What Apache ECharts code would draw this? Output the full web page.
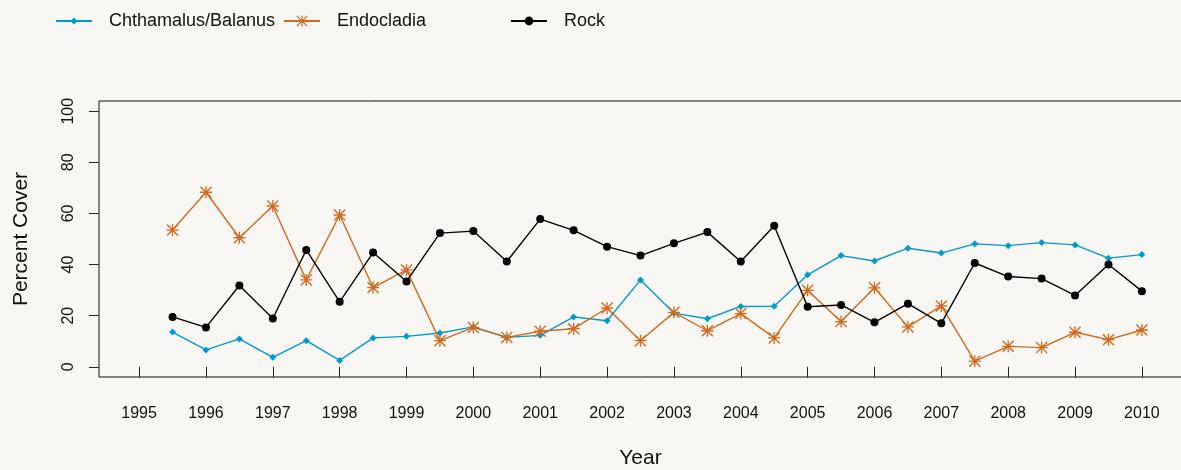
<!DOCTYPE html>
<html>
<head>
<meta charset="utf-8">
<script src="https://cdn.jsdelivr.net/npm/echarts@6/dist/echarts.min.js"></script>
<style>
  html, body { margin: 0; padding: 0; background: #f8f7f3; }
  #chart { width: 1181px; height: 470px; }
</style>
</head>
<body>
<div id="chart"></div>
<script>
var years = [1995.5, 1996, 1996.5, 1997, 1997.5, 1998, 1998.5, 1999, 1999.5, 2000,
  2000.5, 2001, 2001.5, 2002, 2002.5, 2003, 2003.5, 2004, 2004.5, 2005,
  2005.5, 2006, 2006.5, 2007, 2007.5, 2008, 2008.5, 2009, 2009.5, 2010];
var chthamalus = [13.6, 6.6, 10.9, 3.7, 10.2, 2.5, 11.3, 11.9, 13.2, 15.6,
  11.5, 12.3, 19.5, 18.0, 34.0, 21.0, 18.8, 23.6, 23.7, 36.0,
  43.5, 41.4, 46.4, 44.5, 48.1, 47.4, 48.6, 47.7, 42.5, 43.9];
var endocladia = [53.5, 68.3, 50.5, 62.9, 34.0, 59.4, 31.0, 37.9, 10.2, 15.4,
  11.5, 13.9, 14.9, 23.0, 10.2, 21.3, 14.1, 20.8, 11.3, 29.9,
  17.7, 30.9, 15.6, 23.8, 2.2, 8.0, 7.5, 13.5, 10.6, 14.4];
var rock = [19.5, 15.4, 31.8, 18.9, 45.7, 25.4, 44.7, 33.4, 52.3, 53.1,
  41.2, 57.8, 53.4, 47.0, 43.5, 48.3, 52.7, 41.2, 55.2, 23.5,
  24.2, 17.4, 24.7, 17.0, 40.6, 35.3, 34.5, 27.9, 40.0, 29.6];
var xTicks = [1995, 1996, 1997, 1998, 1999, 2000, 2001, 2002, 2003, 2004,
  2005, 2006, 2007, 2008, 2009, 2010];
var yTicks = [0, 20, 40, 60, 80, 100];

var font = "'Liberation Sans', Arial, sans-serif";
// asterisk (R pch 8) made of thin bars
var star = 'path://M0 8.9L20 8.9L20 11.1L0 11.1Z M8.9 0L11.1 0L11.1 20L8.9 20Z ' +
  'M1.6 0L20 18.4L18.4 20L0 1.6Z M18.4 0L20 1.6L1.6 20L0 18.4Z';

function pairs(vals) {
  return years.map(function (y, i) { return [y, vals[i]]; });
}

function legendAt(left, name, h) {
  return {
    left: left, top: 12, padding: 0,
    itemWidth: 36, itemHeight: h,
    data: [name],
    textStyle: { fontFamily: font, fontSize: 18, color: '#111', padding: [0, 0, 0, 12] }
  };
}

var chart = echarts.init(document.getElementById('chart'));
var option = {
  backgroundColor: '#f8f7f3',
  animation: false,
  legend: [
    legendAt(55, 'Chthamalus/Balanus', 9),
    legendAt(283, 'Endocladia', 14),
    legendAt(510, 'Rock', 11)
  ],
  grid: {
    left: 99, top: 101, width: 1083, height: 276,
    outerBoundsMode: 'none', containLabel: false,
    show: true, borderColor: '#111', borderWidth: 1, backgroundColor: 'transparent'
  },
  xAxis: {
    type: 'value', min: 1994.4, max: 2010.6,
    name: 'Year', nameLocation: 'middle', nameGap: 71,
    nameTextStyle: { fontFamily: font, fontSize: 21, color: '#111' },
    axisLine: { show: false },
    splitLine: { show: false },
    axisTick: { show: true, inside: false, length: 11, customValues: xTicks,
      lineStyle: { color: '#222', width: 1 } },
    axisLabel: { customValues: xTicks, margin: 29, fontFamily: font, fontSize: 16, color: '#111',
      formatter: function (v) { return String(v); } }
  },
  yAxis: {
    type: 'value', min: -4, max: 104,
    name: 'Percent Cover', nameLocation: 'middle', nameGap: 67, nameRotate: 90,
    nameTextStyle: { fontFamily: font, fontSize: 21, color: '#111' },
    axisLine: { show: false },
    splitLine: { show: false },
    axisTick: { show: true, inside: false, length: 10, customValues: yTicks,
      lineStyle: { color: '#222', width: 1 } },
    axisLabel: { customValues: yTicks, rotate: 90, margin: 22, fontFamily: font, fontSize: 16, color: '#111' }
  },
  series: [
    {
      name: 'Chthamalus/Balanus', type: 'line', data: pairs(chthamalus),
      symbol: 'diamond', symbolSize: 7, showAllSymbol: true, z: 2,
      itemStyle: { color: '#009ACD' }, lineStyle: { color: '#009ACD', width: 1.4 }
    },
    {
      name: 'Endocladia', type: 'line', data: pairs(endocladia),
      symbol: star, symbolSize: 12, showAllSymbol: true, z: 3,
      itemStyle: { color: '#D2691E' }, lineStyle: { color: '#D2691E', width: 1.4 }
    },
    {
      name: 'Rock', type: 'line', data: pairs(rock),
      symbol: 'circle', symbolSize: 8, showAllSymbol: true, z: 4,
      itemStyle: { color: '#000' }, lineStyle: { color: '#000', width: 1.4 }
    }
  ]
};
chart.setOption(option);
</script>
</body>
</html>
